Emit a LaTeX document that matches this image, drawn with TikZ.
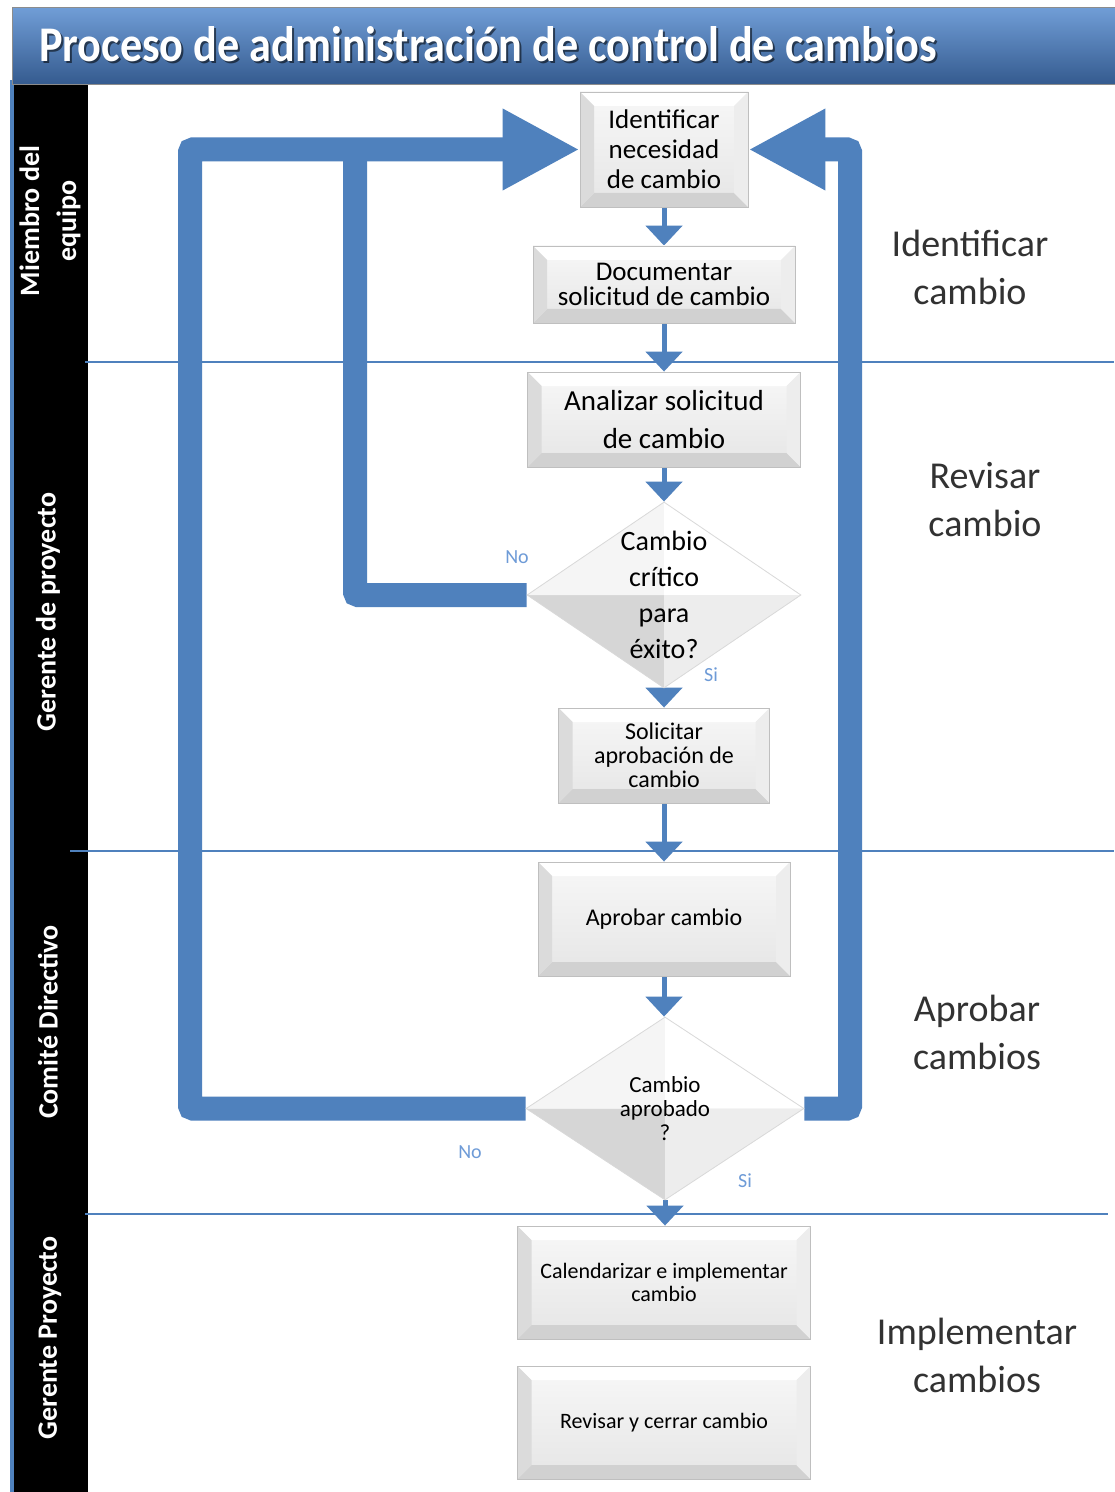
\documentclass[tikz,border=0pt]{standalone}
\usepackage{fontspec}
\setmainfont{Carlito}
\usetikzlibrary{arrows.meta,shapes.geometric}
\definecolor{flowblue}{RGB}{79,129,189}
\definecolor{lblblue}{RGB}{110,155,215}
\definecolor{ttop}{RGB}{112,157,214}
\definecolor{tbot}{RGB}{52,90,142}
\definecolor{txtgray}{RGB}{50,50,50}
\pgfdeclarelayer{bg}
\pgfdeclarelayer{mid}
\pgfsetlayers{bg,mid,main}
\tikzset{
  bevelbox/.style={rectangle, draw=black!25, line width=0.4pt, inner sep=2pt, align=center,
    top color=black!3, bottom color=black!10,
    path picture={
      \path (path picture bounding box.south west) coordinate (A)
            (path picture bounding box.north east) coordinate (B);
      \fill[black!18] (A) -- (A -| B) -- ([shift={(-7pt,7pt)}]A -| B) -- ([shift={(7pt,7pt)}]A) -- cycle;
      \fill[white] (B) -- (B -| A) -- ([shift={(7pt,-7pt)}]B -| A) -- ([shift={(-7pt,-7pt)}]B) -- cycle;
      \fill[black!14] (A) -- (A |- B) -- ([shift={(7pt,-7pt)}]A |- B) -- ([shift={(7pt,7pt)}]A) -- cycle;
      \fill[black!7] (B) -- (B |- A) -- ([shift={(-7pt,7pt)}]B |- A) -- ([shift={(-7pt,-7pt)}]B) -- cycle;
    }},
  bevdiamond/.style={diamond, draw=black!15, line width=0.4pt, inner sep=0pt, fill=black!5,
    path picture={
      \fill[black!16] (path picture bounding box.center) -- (path picture bounding box.south) -- (path picture bounding box.west) -- cycle;
      \fill[black!4] (path picture bounding box.center) -- (path picture bounding box.north) -- (path picture bounding box.west) -- cycle;
      \fill[white] (path picture bounding box.center) -- (path picture bounding box.north) -- (path picture bounding box.east) -- cycle;
      \fill[black!7] (path picture bounding box.center) -- (path picture bounding box.south) -- (path picture bounding box.east) -- cycle;
    }},
  smallarrow/.style={draw=flowblue, line width=2.5pt, -{Triangle[width=18pt,length=10pt]}},
  bigarrow/.style={draw=flowblue, line width=12pt, rounded corners=1.5pt, -{Triangle[width=38pt,length=38.5pt]}},
  bigline/.style={draw=flowblue, line width=12pt, rounded corners=1.5pt},
  laneline/.style={draw=flowblue, line width=1pt},
  lanelabel/.style={text=white, font=\bfseries\fontsize{14pt}{18.5pt}\selectfont, rotate=90, align=center},
  phase/.style={text=txtgray, font=\fontsize{19pt}{24pt}\selectfont, align=center},
  yesno/.style={text=lblblue, font=\fontsize{10pt}{10pt}\selectfont}
}
\begin{document}
\begin{tikzpicture}[x=0.5pt,y=-0.5pt]
\useasboundingbox (0,0) rectangle (1114,1492);

% background, lane column and lane lines
\begin{pgfonlayer}{bg}
\fill[white] (0,0) rectangle (1114,1492);
\fill[flowblue] (10,80) rectangle (88,1492);
\fill[black] (14,85) rectangle (88,1492);
\draw[laneline] (85,362) -- (1114,362);
\draw[laneline] (70,851) -- (1114,851);
\draw[laneline] (85,1214) -- (1108,1214);
\end{pgfonlayer}
\shade[top color=ttop, bottom color=tbot, draw=black!45, line width=0.5pt] (12,8) rectangle (1116,85);
\node[anchor=base west, text=black, opacity=0.55] (titleshadow) at (34,64)
  {\resizebox{449pt}{17.5pt}{\bfseries Proceso de administración de control de cambios}};
\node[anchor=base west, text=white] (title) at (32,62)
  {\resizebox{449pt}{17.5pt}{\bfseries Proceso de administración de control de cambios}};

% lane labels
\node[lanelabel] (lane1) at (50,221) {Miembro del\\equipo};
\node[lanelabel] (lane2) at (48,612) {Gerente de proyecto};
\node[lanelabel] (lane3) at (48,1022) {Comité Directivo};
\node[lanelabel] (lane4) at (50,1338) {Gerente Proyecto};

% phase labels
\node[phase] (ph1) at (970,267) {Identificar\\cambio};
\node[phase] (ph2) at (985,500) {Revisar\\cambio};
\node[phase] (ph3) at (977,1032) {Aprobar\\cambios};
\node[phase] (ph4) at (977,1355) {Implementar\\cambios};

% process nodes
\node[bevelbox, minimum width=84pt, minimum height=57.5pt, font=\fontsize{13.5pt}{15pt}\selectfont] (id) at (664,149.5) {Identificar\\necesidad\\de cambio};
\node[bevelbox, minimum width=131pt, minimum height=38.5pt, font=\fontsize{13.5pt}{12.5pt}\selectfont] (doc) at (664,284.5) {Documentar\\solicitud de cambio};
\node[bevelbox, minimum width=136.5pt, minimum height=47.5pt, font=\fontsize{14.5pt}{19pt}\selectfont] (ana) at (664,419.5) {Analizar solicitud\\de cambio};
\node[bevdiamond, minimum width=137pt, minimum height=93pt,
  label={[align=center, font=\fontsize{14pt}{18pt}\selectfont]center:Cambio\\crítico\\para\\éxito?}] (d1) at (664,595) {};
\node[bevelbox, minimum width=105.5pt, minimum height=47.5pt, font=\fontsize{12pt}{12pt}\selectfont] (sol) at (664,755.5) {Solicitar\\aprobación de\\cambio};
\node[bevelbox, minimum width=126pt, minimum height=57pt, font=\fontsize{12pt}{12pt}\selectfont] (apr) at (664,919) {Aprobar cambio};
\node[bevdiamond, minimum width=139pt, minimum height=91.5pt,
  label={[align=center, font=\fontsize{11.5pt}{12pt}\selectfont]center:Cambio\\aprobado\\?}] (d2) at (665,1108.5) {};
\node[bevelbox, minimum width=146.5pt, minimum height=56.5pt, font=\fontsize{11pt}{11.5pt}\selectfont] (cal) at (664,1282.5) {Calendarizar e implementar\\cambio};
\node[bevelbox, minimum width=146.5pt, minimum height=56.5pt, font=\fontsize{11pt}{11.5pt}\selectfont] (rev) at (664,1422.5) {Revisar y cerrar cambio};

% yes / no labels
\node[yesno] (no1) at (517,557) {No};
\node[yesno] (si1) at (711,675) {Si};
\node[yesno] (no2) at (470,1152) {No};
\node[yesno] (si2) at (745,1181) {Si};

% connectors
\begin{pgfonlayer}{mid}
\draw[smallarrow] (id.south) -- (doc.north);
\draw[smallarrow] (doc.south) -- (ana.north);
\draw[smallarrow] (ana.south) -- (d1.north);
\draw[smallarrow] (d1.south) -- (sol.north);
\draw[smallarrow] (sol.south) -- (apr.north);
\draw[smallarrow] (apr.south) -- (apr.south |- d2.north);
\draw[smallarrow] (d2.south) -- (d2.south |- cal.north);
\draw[bigline] (d1.west) -- (355,595) -- (355,150);
\draw[bigarrow] (d2.west) -- (190,1108.5) -- (190,149.5) -- (id.west);
\draw[bigarrow] (d2.east) -- (850,1108.5) -- (850,149.5) -- (id.east);
\end{pgfonlayer}
\end{tikzpicture}
\end{document}
